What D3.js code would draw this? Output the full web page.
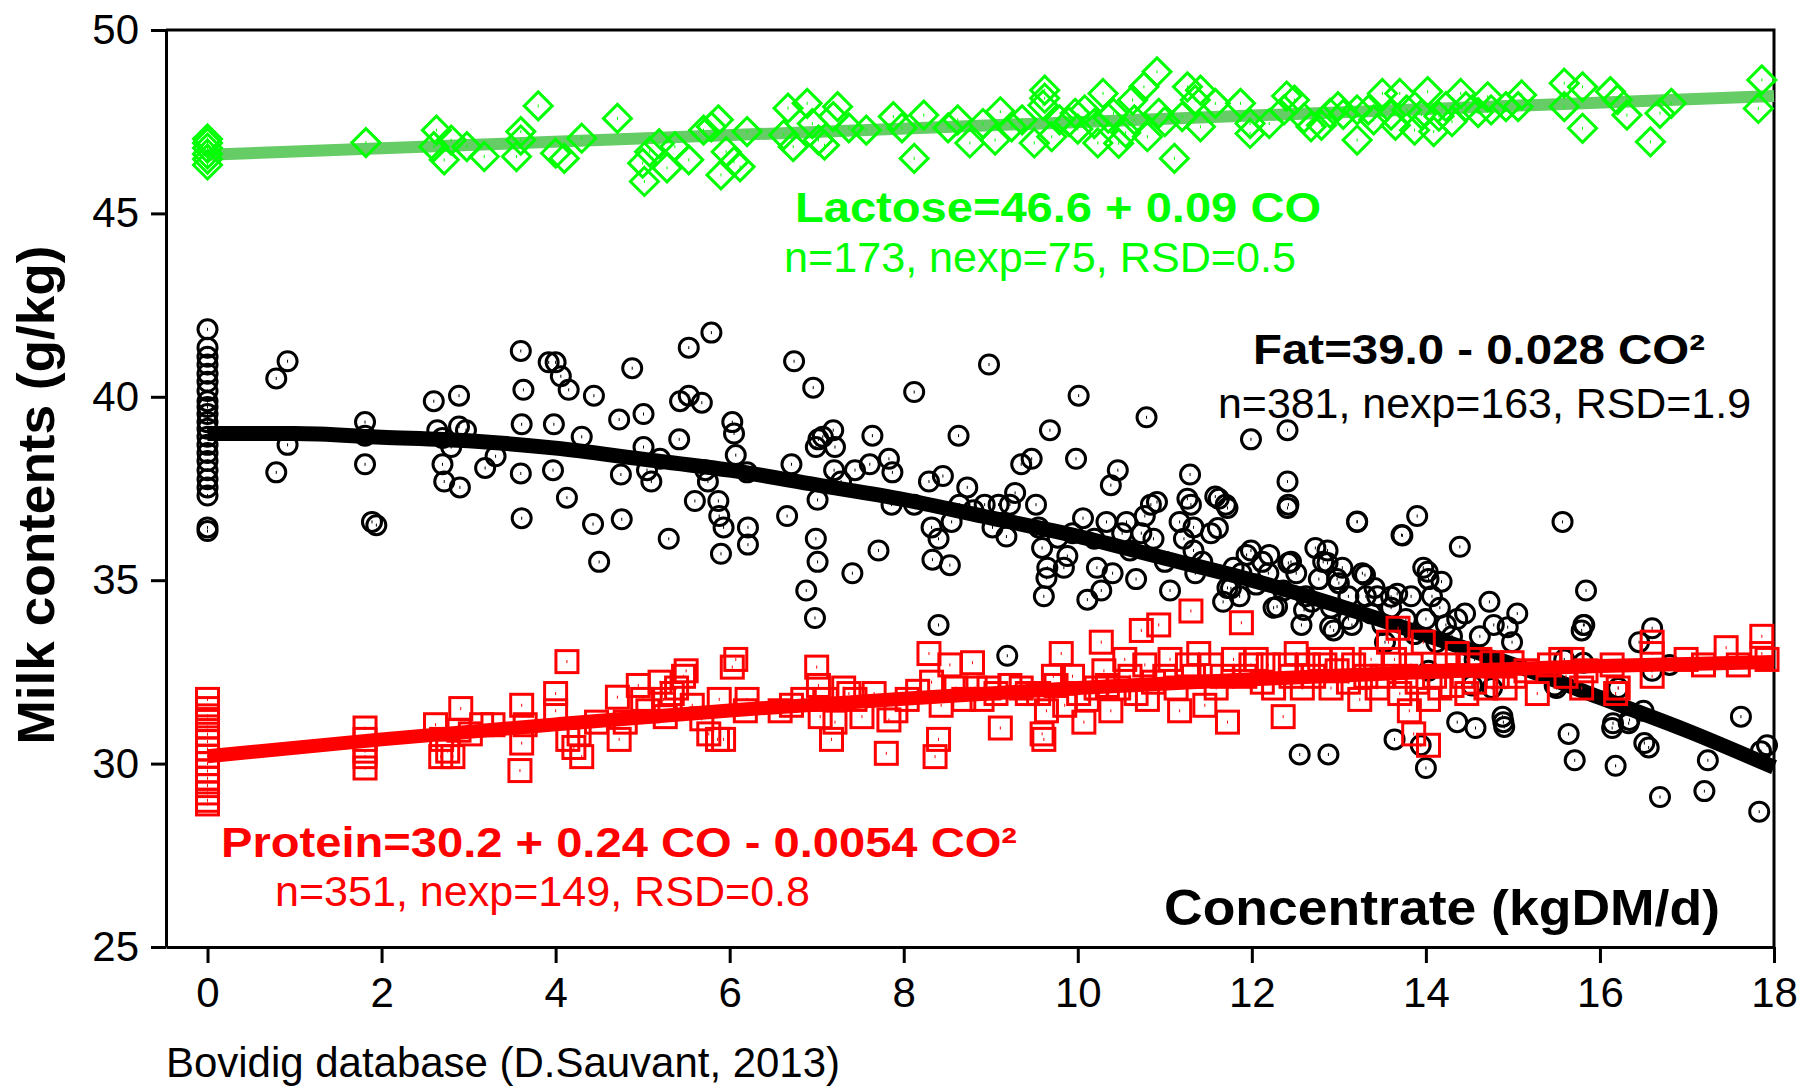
<!DOCTYPE html>
<html lang="en">
<head>
    <meta charset="UTF-8">
    <title>Milk contents vs concentrate</title>
    <script src="https://cdn.jsdelivr.net/npm/d3@7/dist/d3.min.js"></script>
    <style>
        body { margin: 0; background: #fff; }
        svg { display: block; font-family: 'Liberation Sans', Arial, sans-serif; }
        .axis path, .axis line { stroke: #000; stroke-width: 3; }
        .axis text { font-size: 42px; fill: #000; }
    </style>
</head>
<body>
<script>
    'use strict';

    // ---- data ----
    const xTicks = [0, 2, 4, 6, 8, 10, 12, 14, 16, 18];
    const yTicks = [25, 30, 35, 40, 45, 50];

    const lactoseX = [0, 0, 0, 0, 0, 0,
        1.82, 2.63, 2.6, 2.72, 2.8, 2.98, 3.18, 3.6, 3.6, 3.55, 3.8, 4.0, 4.1, 4.3,
        4.71, 5.02, 5.0, 5.08, 5.19, 5.28, 5.37, 5.53, 5.7, 5.87, 5.79, 5.9, 5.96, 6.05, 6.12, 6.2,
        6.67, 6.89, 6.62, 6.73, 6.95, 7.02, 7.09, 7.24, 7.19, 7.37, 7.57, 7.88, 7.98, 8.12, 8.23,
        8.51, 8.62, 8.76, 8.91, 9.05, 9.11, 9.24, 9.36, 9.5, 9.62, 9.62, 9.6, 9.7, 9.79, 9.97,
        10.08, 10.19, 10.23, 10.29, 10.41, 10.47, 10.63, 10.76, 10.91, 10.8, 10.93, 11.11, 11.26, 11.2, 11.35,
        11.41, 11.58, 11.41, 11.87, 11.98, 11.98, 12.2, 12.37, 12.49, 12.4, 12.68, 12.9, 12.99,
        13.21, 13.21, 13.34, 13.5, 13.7, 13.6, 13.78, 13.87, 14.02, 14.09, 13.95, 14.23, 14.4, 14.46,
        14.71, 14.75, 14.92, 15.1, 15.06, 15.59, 15.59, 15.8, 15.8, 16.12, 16.31, 16.2, 16.58,
        16.69, 16.82, 17.86, 17.82,
        9.9, 10.0, 10.35, 10.55, 10.65, 11.0, 12.6, 12.8, 13.05, 13.4, 13.65, 14.15, 14.3, 14.6];
    const lactoseY = [46.32, 46.48, 46.62, 46.78, 46.92, 47.03,
        46.93, 47.27, 46.82, 46.46, 47.0, 46.82, 46.55, 47.23, 47.0, 46.55, 47.93, 46.64, 46.5, 47.05,
        47.59, 45.87, 46.37, 46.68, 46.9, 46.24, 46.82, 46.46, 47.27, 47.55, 47.36, 46.05, 46.68, 46.41, 46.27, 47.23,
        47.87, 48.0, 47.14, 46.82, 47.45, 47.0, 46.86, 47.91, 47.64, 47.33, 47.27, 47.64, 47.33, 46.5, 47.68,
        47.33, 47.55, 46.92, 47.45, 47.0, 47.77, 47.36, 47.55, 46.92, 48.36, 48.14, 47.95, 47.09, 47.55, 47.73,
        47.82, 47.45, 46.92, 48.27, 47.73, 46.91, 48.09, 48.45, 48.86, 47.09, 47.73, 46.5, 48.45, 47.64, 48.09,
        48.36, 48.0, 47.36, 48.0, 47.18, 47.45, 47.45, 47.82, 48.09, 48.2, 47.36, 47.73, 47.91,
        47.0, 47.82, 47.82, 48.27, 48.27, 47.68, 47.82, 47.27, 48.32, 47.23, 47.7, 47.91, 48.27, 47.91,
        48.18, 47.82, 47.91, 48.23, 47.91, 48.55, 47.91, 48.45, 47.32, 48.32, 47.68, 48.1, 46.95,
        47.73, 48.0, 48.64, 47.86,
        47.5, 47.3, 47.6, 47.2, 47.55, 47.5, 47.6, 47.4, 47.7, 47.55, 47.4, 47.65, 47.5, 47.75];

    const fatX = [0, 0, 0, 0, 0, 0, 0, 0, 0, 0, 0, 0, 0, 0, 0, 0, 0, 0, 0, 0, 0, 0,
        0.79, 0.92, 0.79, 0.92, 1.81, 1.81, 1.81, 1.89, 1.94,
        2.6, 2.64, 2.7, 2.8, 2.7, 2.72, 2.89, 2.89, 2.9, 2.97, 3.19, 3.31,
        3.6, 3.63, 3.61, 3.6, 3.61, 3.92, 4.0, 4.06, 4.15, 3.98, 3.97, 4.13, 4.3, 4.44, 4.43, 4.5,
        4.73, 4.75, 4.76, 4.88, 5.01, 5.01, 5.05, 5.2, 5.1, 5.3, 5.42, 5.43, 5.53, 5.53, 5.79, 5.68,
        5.72, 5.6, 5.75, 5.87, 5.88, 5.93, 5.9, 6.03, 6.05, 6.07, 6.21, 6.21, 6.2,
        6.66, 6.74, 6.71, 6.88, 6.98, 6.96, 6.99, 7.02, 7.01, 6.99, 7.01, 7.07, 7.19, 7.21, 7.2, 7.28,
        7.41, 7.44, 7.61, 7.64, 7.71, 7.83, 7.87, 7.86, 8.12, 8.12, 8.29, 8.32, 8.33, 8.4, 8.4, 8.45,
        8.55, 8.63, 8.64, 8.53, 8.73, 8.8, 8.93, 8.98, 9.02, 9.09, 9.18, 9.22, 9.19, 9.28, 9.35, 9.47,
        9.52, 9.55, 9.59, 9.61, 9.64, 9.65, 9.68, 9.77, 9.84, 9.88, 9.94, 10.01, 9.98, 10.06, 10.11,
        10.19, 10.22, 10.27, 10.33, 10.38, 10.4, 10.46, 10.51, 10.56, 10.6, 10.67, 10.73, 10.79, 10.77,
        10.84, 10.87, 10.91, 11.0, 11.06, 11.17, 11.22, 11.26, 11.3, 11.33, 11.35, 11.29, 11.33, 11.43,
        11.53, 11.62, 11.7, 11.76, 11.79, 11.86, 11.88, 11.99, 11.99, 12.05, 12.12, 12.19, 12.25, 12.36,
        12.41, 12.41, 12.42, 12.45, 12.51, 12.57, 12.62, 12.69, 12.77, 12.82, 12.87, 12.91, 12.94, 12.98,
        13.04, 13.11, 13.15, 13.21, 13.27, 13.31, 13.37, 13.44, 13.5, 13.53, 13.6, 13.67, 13.73, 13.77,
        13.83, 13.87, 13.9, 13.97, 14.03, 14.0, 14.07, 14.12, 14.16, 14.23, 14.3, 14.39, 14.36, 14.45,
        14.56, 14.62, 14.73, 14.76, 14.78, 14.88, 14.89, 14.94, 14.99, 15.05, 14.0, 13.94, 13.64, 13.11,
        12.55, 12.88, 14.53, 14.36, 14.03, 15.48, 15.59, 15.57, 15.64, 15.71, 15.79, 15.81, 15.84, 15.81,
        16.14, 16.18, 16.21, 16.34, 16.45, 16.5, 16.51, 16.56, 16.6, 16.6, 16.69, 16.8, 17.2, 17.24,
        17.62, 17.83, 17.85, 17.92,
        11.58, 11.72, 11.61, 11.94, 12.2, 12.42, 11.72, 11.67, 12.29, 12.6, 12.73, 12.87, 13.0, 13.3,
        13.41, 13.6, 14.02, 14.18, 12.9, 14.57, 14.9, 15.5, 16.15, 16.33, 15.82, 13.72, 13.21, 12.41];
    const fatY = [41.84, 41.34, 41.09, 40.88, 40.63, 40.41, 40.16, 39.88, 39.72, 39.53, 39.31, 39.13,
        38.91, 38.69, 38.47, 38.25, 38.0, 37.75, 37.53, 37.31, 36.44, 36.34,
        40.5, 40.97, 37.94, 38.69, 39.31, 38.94, 38.16, 36.59, 36.5,
        39.88, 39.09, 38.88, 38.63, 38.16, 37.69, 40.03, 39.19, 37.53, 39.09, 38.06, 38.38,
        41.25, 40.19, 39.25, 37.91, 36.69, 40.94, 40.94, 40.56, 40.19, 39.25, 38.0, 37.25, 38.91, 40.03, 36.53, 35.5,
        39.38, 37.88, 36.66, 40.78, 39.53, 38.63, 38.0, 38.31, 37.69, 36.13, 38.84, 39.88, 40.03, 41.34, 41.75, 39.84,
        38.0, 37.16, 37.69, 37.16, 36.75, 36.44, 35.72, 39.31, 39.0, 38.41, 36.44, 35.97, 37.94,
        36.75, 40.97, 38.16, 34.72, 33.97, 40.25, 38.63, 38.84, 37.19, 36.13, 35.5, 38.91, 39.09, 38.63, 38.0, 37.69,
        35.19, 38.0, 38.16, 38.94, 35.81, 38.31, 37.94, 37.06, 40.13, 37.06, 37.69, 36.44, 35.56, 33.78, 36.13, 37.84,
        36.59, 38.94, 37.06, 35.41, 37.53, 36.91, 37.06, 40.88, 36.44, 37.06, 36.19, 37.06, 32.94, 37.38, 38.16, 38.31,
        37.06, 36.44, 35.88, 34.56, 35.06, 35.34, 39.09, 36.16, 35.34, 35.66, 36.28, 40.03, 38.31, 36.69, 34.47,
        36.13, 35.34, 34.72, 36.59, 37.59, 35.19, 38.0, 36.28, 36.59, 35.81, 35.03, 36.28, 39.44, 36.75,
        37.06, 36.13, 37.13, 35.5, 34.72, 36.59, 36.13, 37.22, 37.06, 35.81, 35.19, 37.88, 36.44, 35.5,
        36.28, 37.22, 37.06, 34.78, 35.34, 34.56, 35.19, 38.84, 35.81, 34.88, 35.5, 35.19, 34.25, 34.72,
        39.09, 37.69, 37.06, 35.5, 35.19, 33.78, 34.56, 34.41, 35.03, 35.5, 35.81, 34.25, 33.63, 35.03,
        35.34, 34.56, 33.78, 36.59, 35.19, 34.56, 34.09, 34.56, 33.78, 33.31, 34.25, 34.63, 36.22, 33.94,
        34.56, 33.53, 36.75, 35.34, 35.03, 33.94, 34.56, 33.31, 34.25, 33.78, 33.47, 35.91, 33.94, 34.09,
        32.84, 33.47, 34.41, 32.06, 33.78, 31.28, 31.13, 33.72, 33.31, 34.09, 29.88, 30.5, 30.66, 33.94,
        30.25, 30.25, 32.13, 31.13, 32.53, 32.13, 32.84, 36.59, 30.81, 30.09, 33.63, 32.75, 34.72, 33.78,
        30.97, 29.94, 32.06, 31.19, 33.31, 31.44, 30.56, 30.44, 33.69, 32.53, 29.09, 32.69, 29.25, 30.09,
        31.28, 28.69, 30.34, 30.5,
        37.28, 36.97, 36.42, 35.69, 35.69, 35.47, 34.79, 34.41, 34.28, 34.19, 35.88, 35.47, 34.92, 35.14,
        34.79, 34.55, 35.23, 34.96, 33.73, 30.97, 31.0, 32.06, 31.1, 31.1, 33.78, 36.23, 36.6, 36.97];

    const proteinX = [0, 0, 0, 0, 0, 0, 0, 0, 0, 0, 0, 0, 0, 0, 0, 0,
        1.81, 1.81, 1.81, 1.81, 1.81,
        2.62, 2.69, 2.76, 2.82, 2.89, 2.91, 3.02, 3.15, 3.28, 2.68,
        3.59, 3.61, 3.65, 3.61, 4.0, 4.13, 4.0, 4.14, 4.21, 4.3, 4.27, 4.47, 4.71, 4.73, 4.8, 4.95,
        5.0, 5.06, 5.2, 5.24, 5.26, 5.34, 5.39, 5.47, 5.5, 5.57, 5.68, 5.76, 5.86, 5.93, 5.88, 6.03,
        6.07, 6.18, 6.2, 6.58, 6.71, 6.84, 7.0, 7.02, 7.04, 7.11, 7.17, 7.21, 7.31, 7.37, 7.44, 7.52,
        7.66, 7.8, 7.83, 7.91, 8.04, 8.16, 8.29, 8.32, 8.36, 8.4, 8.43, 8.53, 8.6, 8.69, 8.79, 8.82,
        8.9, 8.98, 9.06, 9.11, 9.22, 9.35, 9.42, 9.55, 9.59, 9.61, 9.64, 9.72, 9.75, 9.81, 9.85, 9.94,
        10.01, 10.07, 10.11, 10.21, 10.27, 10.3, 10.34, 10.38, 10.47, 10.54, 10.6, 10.67, 10.73, 10.77,
        10.8, 10.87, 10.93, 11.0, 11.06, 11.13, 11.17, 11.26, 11.3, 11.33, 11.39, 11.46, 11.53, 11.59,
        11.66, 11.72, 11.79, 11.88, 11.92, 11.99, 12.05, 12.12, 12.19, 12.25, 12.36, 12.38, 12.45, 12.51,
        12.58, 12.65, 12.71, 12.78, 12.84, 12.91, 12.98, 13.04, 13.11, 13.17, 13.24, 13.31, 13.37, 13.44,
        13.5, 13.57, 13.64, 13.68, 13.7, 13.77, 13.81, 13.83, 13.9, 13.97, 13.86, 14.03, 14.03, 14.1,
        14.16, 14.23, 14.3, 14.36, 14.43, 14.47, 14.51, 14.56, 14.62, 14.69, 14.76, 14.82, 14.91, 14.99,
        15.02, 15.15, 15.28, 15.42, 15.55, 15.61, 15.68, 15.79, 15.84, 16.14, 16.18, 16.21, 16.6, 16.6,
        16.6, 16.99, 17.19, 17.45, 17.59, 17.86, 17.86, 17.92];
    const proteinY = [31.75, 31.5, 31.2, 31.0, 30.8, 30.6, 30.4, 30.2, 30.0, 29.8, 29.6, 29.4, 29.2, 29.0, 28.9, 31.3,
        30.97, 30.66, 30.19, 29.88, 30.34,
        31.06, 30.66, 30.34, 30.19, 30.91, 31.5, 30.81, 31.06, 31.06, 30.19,
        29.81, 31.59, 31.06, 30.56, 31.91, 32.78, 31.44, 30.66, 30.44, 30.19, 30.81, 31.13, 31.81, 30.66, 31.13, 32.13,
        31.75, 31.44, 32.22, 31.75, 31.28, 31.91, 32.06, 32.38, 32.53, 31.59, 31.22, 30.81, 30.66, 30.66, 31.75, 32.63,
        32.84, 31.44, 31.75, 31.44, 31.59, 31.75, 32.63, 32.13, 31.28, 31.75, 30.66, 31.13, 32.06, 31.91, 31.75, 31.28,
        31.91, 30.28, 31.19, 31.44, 31.75, 31.97, 33.0, 32.22, 30.19, 30.66, 31.59, 32.69, 32.06, 31.75, 32.75, 32.06,
        31.75, 32.06, 31.91, 30.97, 32.13, 32.06, 31.91, 31.91, 30.81, 30.66, 31.44, 32.38, 32.13, 33.0, 31.59, 32.38,
        31.91, 31.13, 31.75, 32.06, 33.31, 32.53, 32.13, 31.44, 32.06, 32.84, 32.38, 31.91, 33.63, 32.69,
        31.75, 32.22, 33.78, 32.38, 32.84, 32.06, 31.44, 32.69, 34.16, 32.38, 33.0, 31.59, 32.69, 32.06,
        32.38, 31.13, 32.84, 33.84, 32.38, 32.69, 32.84, 32.22, 32.69, 32.06, 31.28, 32.69, 32.38, 33.0,
        32.06, 32.69, 32.38, 32.84, 32.69, 32.06, 32.53, 32.84, 32.22, 32.69, 31.75, 32.38, 32.84, 32.06,
        32.38, 33.31, 32.84, 33.69, 31.91, 32.38, 31.44, 32.69, 32.22, 33.31, 30.81, 30.5, 31.75, 32.38,
        32.06, 32.69, 32.13, 33.0, 32.38, 31.91, 32.69, 32.22, 32.84, 32.06, 32.75, 32.38, 32.06, 32.75,
        32.38, 32.53, 31.91, 32.69, 32.84, 32.38, 32.84, 32.06, 32.53, 32.69, 31.91, 32.06, 33.31, 32.38,
        33.0, 32.84, 32.69, 33.16, 32.69, 33.47, 33.0, 32.84];

    // fitted curves
    const lactoseFitX = [0, 18];
    const lactoseFitY = [46.6, 48.2];
    const fatFitX = [0, 1, 2, 3, 4, 5, 6, 7, 8, 9, 10, 11, 12, 13, 14, 15, 16, 17, 18];
    const fatFitY = [39.0, 39.0, 38.9, 38.8, 38.6, 38.3, 38.0, 37.6, 37.2, 36.7, 36.2, 35.6, 35.0, 34.3, 33.5, 32.7, 31.8, 30.9, 29.9];
    const proteinFitX = [0, 2, 4, 6, 8, 10, 12, 14, 16, 18];
    const proteinFitY = [30.2, 30.66, 31.07, 31.45, 31.77, 32.06, 32.3, 32.5, 32.66, 32.77];

    // ---- layout ----
    const W = 1798, H = 1086;
    const plotLeft = 166, plotRight = 1774, plotTop = 30, plotBottom = 947;
    const GREEN = '#00ff00', RED = '#ff0000';

    const svg = d3.select('body').append('svg').attr('width', W).attr('height', H);

    const x = d3.scaleLinear().domain([-0.477, 18]).range([plotLeft, plotRight]);
    const y = d3.scaleLinear().domain([25, 50]).range([plotBottom, plotTop]);

    // frame (top & right)
    svg.append('path')
        .attr('d', `M${plotLeft},${plotTop}H${plotRight}V${plotBottom}`)
        .attr('fill', 'none').attr('stroke', '#000').attr('stroke-width', 3);

    const xAxis = svg.append('g').attr('class', 'axis')
        .attr('transform', `translate(0,${plotBottom})`)
        .call(d3.axisBottom(x).tickValues(xTicks).tickSize(16).tickSizeOuter(0).tickPadding(14));
    xAxis.selectAll('text').attr('dy', '0.71em');

    svg.append('g').attr('class', 'axis')
        .attr('transform', `translate(${plotLeft},0)`)
        .call(d3.axisLeft(y).tickValues(yTicks).tickSize(15).tickSizeOuter(0).tickPadding(12));

    const line = d3.line().x(d => x(d[0])).y(d => y(d[1]));
    const curve = d3.line().x(d => x(d[0])).y(d => y(d[1])).curve(d3.curveMonotoneX);
    const zipped = (xs, ys) => xs.map((v, i) => [v, ys[i]]);

    const plot = svg.append('g');

    // lactose
    plot.append('path').datum(zipped(lactoseFitX, lactoseFitY))
        .attr('d', line).attr('fill', 'none').attr('stroke', '#66cc66').attr('stroke-width', 12);
    const diamond = 'M0,-14L14,0L0,14L-14,0Z';
    const lac = plot.append('g').selectAll('g').data(zipped(lactoseX, lactoseY)).enter().append('g')
        .attr('transform', d => `translate(${x(d[0])},${y(d[1])})`);
    lac.append('path').attr('d', diamond).attr('fill', 'none').attr('stroke', GREEN).attr('stroke-width', 3);
    lac.append('path').attr('d', 'M0,-1.5V1.5').attr('stroke', GREEN).attr('stroke-width', 1);

    // fat
    const fat = plot.append('g').selectAll('g').data(zipped(fatX, fatY)).enter().append('g')
        .attr('transform', d => `translate(${x(d[0])},${y(d[1])})`);
    fat.append('circle').attr('r', 9.5).attr('fill', 'none').attr('stroke', '#000').attr('stroke-width', 3);
    fat.append('path').attr('d', 'M0,-1.5V1.5').attr('stroke', '#000').attr('stroke-width', 1);
    plot.append('path').datum(zipped(fatFitX, fatFitY))
        .attr('d', curve).attr('fill', 'none').attr('stroke', '#000').attr('stroke-width', 15);

    // protein
    const pro = plot.append('g').selectAll('g').data(zipped(proteinX, proteinY)).enter().append('g')
        .attr('transform', d => `translate(${x(d[0])},${y(d[1])})`);
    pro.append('rect').attr('x', -11).attr('y', -11).attr('width', 22).attr('height', 22)
        .attr('fill', 'none').attr('stroke', RED).attr('stroke-width', 3);
    pro.append('path').attr('d', 'M0,-1.5V1.5').attr('stroke', RED).attr('stroke-width', 1);
    plot.append('path').datum(zipped(proteinFitX, proteinFitY))
        .attr('d', curve).attr('fill', 'none').attr('stroke', RED).attr('stroke-width', 14);

    // ---- texts ----
    function label(txt, px, py, len, size, weight, color) {
        return svg.append('text').attr('x', px).attr('y', py)
            .attr('font-size', size).attr('font-weight', weight).attr('fill', color)
            .attr('textLength', len).attr('lengthAdjust', 'spacingAndGlyphs')
            .text(txt);
    }

    label('Lactose=46.6 + 0.09 CO', 795, 222, 526, 42, 'bold', GREEN);
    label('n=173, nexp=75, RSD=0.5', 784, 272, 512, 42, 'normal', GREEN);
    label('Fat=39.0 - 0.028 CO²', 1253, 364, 452, 42, 'bold', '#000');
    label('n=381, nexp=163, RSD=1.9', 1218, 418, 533, 42, 'normal', '#000');
    label('Protein=30.2 + 0.24 CO - 0.0054 CO²', 221, 857, 796, 42, 'bold', RED);
    label('n=351, nexp=149, RSD=0.8', 275, 906, 535, 42, 'normal', RED);
    label('Concentrate (kgDM/d)', 1164, 925, 556, 50, 'bold', '#000');
    label('Bovidig database (D.Sauvant, 2013)', 166, 1077, 674, 42, 'normal', '#000');

    svg.append('text')
        .attr('transform', 'translate(54,495) rotate(-90)')
        .attr('text-anchor', 'middle')
        .attr('font-size', 52).attr('font-weight', 'bold').attr('fill', '#000')
        .attr('textLength', 499).attr('lengthAdjust', 'spacingAndGlyphs')
        .text('Milk contents (g/kg)');
</script>
</body>
</html>
